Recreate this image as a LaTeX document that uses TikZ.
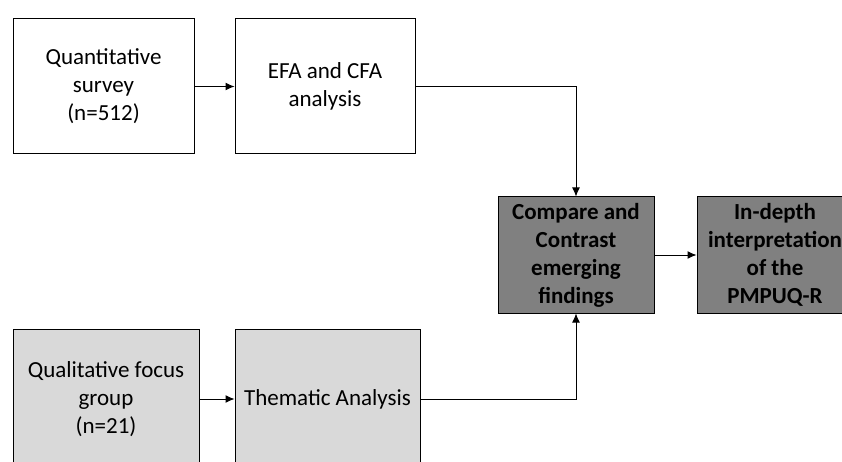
\documentclass[tikz,border=0pt]{standalone}
\usepackage{fontspec}
\setmainfont{Carlito}
\usetikzlibrary{arrows.meta}
\definecolor{lightfill}{RGB}{217,217,217}
\definecolor{darkfill}{RGB}{128,128,128}
\begin{document}
\begin{tikzpicture}[x=1pt, y=-1pt, >={Latex[length=9pt,width=8pt]},
        every node/.style={font=\fontsize{23}{28}\selectfont, align=center, inner sep=0pt},
        quantbox/.style={draw, rectangle, fill=white, line width=1pt, minimum height=135pt},
        qualbox/.style={draw, rectangle, fill=lightfill, line width=1pt, minimum height=140pt},
        resultbox/.style={draw, rectangle, fill=darkfill, line width=1pt, minimum width=156pt, minimum height=116pt, font=\fontsize{23}{28}\selectfont\bfseries}]
        \useasboundingbox (0,0) rectangle (842,462);
        \clip (0,0) rectangle (842,462);
        % Quantitative strand
        \node[quantbox, minimum width=181pt] (quant) at (103.5,86.5) {Quantitative\\survey\\(n=512)};
        \node[quantbox, minimum width=180pt] (efa) at (325,86.5) {EFA and CFA\\analysis};

        % Qualitative strand
        \node[qualbox, minimum width=186pt] (qual) at (106,399) {Qualitative focus\\group\\(n=21)};
        \node[qualbox, minimum width=185pt] (thematic) at (327.5,399) {Thematic Analysis};

        % Merging
        \node[resultbox] (compare) at (576,255) {Compare and\\Contrast\\emerging\\findings};
        \node[resultbox] (indepth) at (775,255) {In-depth\\interpretation\\of the\\PMPUQ-R};

        \draw[->, line width=1pt] (quant) -- (efa);
        \draw[->, line width=1pt] (qual) -- (thematic);
        \draw[->, line width=1pt] (efa.east) -| (compare.north);
        \draw[->, line width=1pt] (thematic.east) -| (compare.south);
        \draw[->, line width=1pt] (compare) -- (indepth);
    \end{tikzpicture}
\end{document}
